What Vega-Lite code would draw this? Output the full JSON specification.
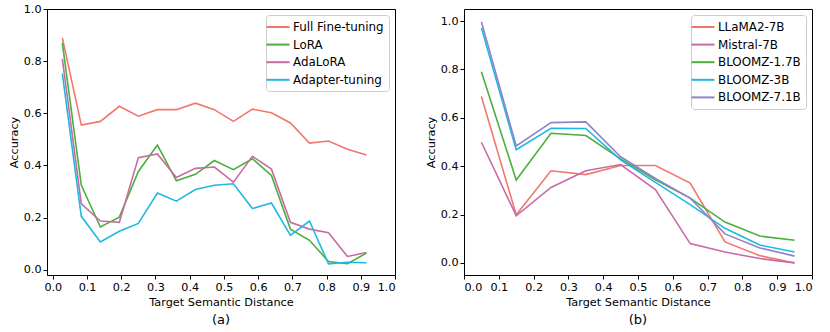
{
  "$schema": "https://vega.github.io/schema/vega-lite/v6.json",
  "padding": {"left": 7, "top": 2, "right": 0, "bottom": 0},
  "config": {
    "font": "DejaVu Sans",
    "view": {"stroke": "black", "strokeWidth": 1},
    "axis": {
      "domain": false, "grid": false, "tickColor": "black", "tickSize": 4, "tickWidth": 1,
      "labelFontSize": 11.2, "labelColor": "black", "labelPadding": 2,
      "titleFontSize": 11.3, "titleFontWeight": "normal", "titleColor": "black"
    },
    "legend": {
      "orient": "top-right", "offset": 6, "fillColor": "white", "strokeColor": "#cccccc",
      "cornerRadius": 3, "padding": 5, "labelFontSize": 11.9, "labelColor": "black",
      "symbolType": "M-2,0H2", "symbolSize": 132, "symbolStrokeWidth": 2, "labelOffset": 8,
      "rowPadding": 4.6, "title": null
    },
    "title": {"orient": "bottom", "fontSize": 13, "fontWeight": "normal", "color": "black", "offset": 6}
  },
  "spacing": 69,
  "bounds": "flush",
  "resolve": {"scale": {"color": "independent"}, "legend": {"color": "independent"}},
  "hconcat": [
    {
      "width": 348, "height": 266,
      "title": "(a)",
      "data": {"values": [
        {"d":0.0278,"acc":0.889,"method":"Full Fine-tuning"},
        {"d":0.0833,"acc":0.555,"method":"Full Fine-tuning"},
        {"d":0.1389,"acc":0.569,"method":"Full Fine-tuning"},
        {"d":0.1944,"acc":0.627,"method":"Full Fine-tuning"},
        {"d":0.25,"acc":0.589,"method":"Full Fine-tuning"},
        {"d":0.3056,"acc":0.614,"method":"Full Fine-tuning"},
        {"d":0.3611,"acc":0.614,"method":"Full Fine-tuning"},
        {"d":0.4167,"acc":0.639,"method":"Full Fine-tuning"},
        {"d":0.4722,"acc":0.614,"method":"Full Fine-tuning"},
        {"d":0.5278,"acc":0.569,"method":"Full Fine-tuning"},
        {"d":0.5833,"acc":0.616,"method":"Full Fine-tuning"},
        {"d":0.6389,"acc":0.602,"method":"Full Fine-tuning"},
        {"d":0.6944,"acc":0.563,"method":"Full Fine-tuning"},
        {"d":0.75,"acc":0.486,"method":"Full Fine-tuning"},
        {"d":0.8056,"acc":0.494,"method":"Full Fine-tuning"},
        {"d":0.8611,"acc":0.462,"method":"Full Fine-tuning"},
        {"d":0.9167,"acc":0.440,"method":"Full Fine-tuning"},
        {"d":0.0278,"acc":0.870,"method":"LoRA"},
        {"d":0.0833,"acc":0.324,"method":"LoRA"},
        {"d":0.1389,"acc":0.164,"method":"LoRA"},
        {"d":0.1944,"acc":0.202,"method":"LoRA"},
        {"d":0.25,"acc":0.377,"method":"LoRA"},
        {"d":0.3056,"acc":0.478,"method":"LoRA"},
        {"d":0.3611,"acc":0.341,"method":"LoRA"},
        {"d":0.4167,"acc":0.366,"method":"LoRA"},
        {"d":0.4722,"acc":0.419,"method":"LoRA"},
        {"d":0.5278,"acc":0.384,"method":"LoRA"},
        {"d":0.5833,"acc":0.426,"method":"LoRA"},
        {"d":0.6389,"acc":0.362,"method":"LoRA"},
        {"d":0.6944,"acc":0.156,"method":"LoRA"},
        {"d":0.75,"acc":0.113,"method":"LoRA"},
        {"d":0.8056,"acc":0.032,"method":"LoRA"},
        {"d":0.8611,"acc":0.023,"method":"LoRA"},
        {"d":0.9167,"acc":0.064,"method":"LoRA"},
        {"d":0.0278,"acc":0.809,"method":"AdaLoRA"},
        {"d":0.0833,"acc":0.253,"method":"AdaLoRA"},
        {"d":0.1389,"acc":0.187,"method":"AdaLoRA"},
        {"d":0.1944,"acc":0.182,"method":"AdaLoRA"},
        {"d":0.25,"acc":0.430,"method":"AdaLoRA"},
        {"d":0.3056,"acc":0.444,"method":"AdaLoRA"},
        {"d":0.3611,"acc":0.354,"method":"AdaLoRA"},
        {"d":0.4167,"acc":0.389,"method":"AdaLoRA"},
        {"d":0.4722,"acc":0.394,"method":"AdaLoRA"},
        {"d":0.5278,"acc":0.336,"method":"AdaLoRA"},
        {"d":0.5833,"acc":0.435,"method":"AdaLoRA"},
        {"d":0.6389,"acc":0.386,"method":"AdaLoRA"},
        {"d":0.6944,"acc":0.182,"method":"AdaLoRA"},
        {"d":0.75,"acc":0.156,"method":"AdaLoRA"},
        {"d":0.8056,"acc":0.142,"method":"AdaLoRA"},
        {"d":0.8611,"acc":0.051,"method":"AdaLoRA"},
        {"d":0.9167,"acc":0.066,"method":"AdaLoRA"},
        {"d":0.0278,"acc":0.752,"method":"Adapter-tuning"},
        {"d":0.0833,"acc":0.205,"method":"Adapter-tuning"},
        {"d":0.1389,"acc":0.107,"method":"Adapter-tuning"},
        {"d":0.1944,"acc":0.148,"method":"Adapter-tuning"},
        {"d":0.25,"acc":0.178,"method":"Adapter-tuning"},
        {"d":0.3056,"acc":0.294,"method":"Adapter-tuning"},
        {"d":0.3611,"acc":0.263,"method":"Adapter-tuning"},
        {"d":0.4167,"acc":0.308,"method":"Adapter-tuning"},
        {"d":0.4722,"acc":0.324,"method":"Adapter-tuning"},
        {"d":0.5278,"acc":0.330,"method":"Adapter-tuning"},
        {"d":0.5833,"acc":0.235,"method":"Adapter-tuning"},
        {"d":0.6389,"acc":0.256,"method":"Adapter-tuning"},
        {"d":0.6944,"acc":0.132,"method":"Adapter-tuning"},
        {"d":0.75,"acc":0.187,"method":"Adapter-tuning"},
        {"d":0.8056,"acc":0.023,"method":"Adapter-tuning"},
        {"d":0.8611,"acc":0.029,"method":"Adapter-tuning"},
        {"d":0.9167,"acc":0.027,"method":"Adapter-tuning"}
      ]},
      "mark": {"type": "line", "strokeWidth": 1.6, "clip": true},
      "encoding": {
        "x": {"field": "d", "type": "quantitative", "title": "Target Semantic Distance",
              "scale": {"domain": [-0.017, 1.0], "nice": false, "zero": false},
              "axis": {"values": [0,0.1,0.2,0.3,0.4,0.5,0.6,0.7,0.8,0.9,1.0], "format": ".1f"}},
        "y": {"field": "acc", "type": "quantitative", "title": "Accuracy",
              "scale": {"domain": [-0.02, 1.0], "nice": false, "zero": false},
              "axis": {"values": [0,0.2,0.4,0.6,0.8,1.0], "format": ".1f"}},
        "color": {"field": "method", "type": "nominal",
                  "scale": {"domain": ["Full Fine-tuning","LoRA","AdaLoRA","Adapter-tuning"],
                            "range": ["#f0776d","#4caf3d","#c86ba5","#1fb8e3"]}}
      }
    },
    {
      "width": 348, "height": 266,
      "title": "(b)",
      "data": {"values": [
        {"d":0.05,"acc":0.688,"model":"LLaMA2-7B"},
        {"d":0.15,"acc":0.199,"model":"LLaMA2-7B"},
        {"d":0.25,"acc":0.381,"model":"LLaMA2-7B"},
        {"d":0.35,"acc":0.365,"model":"LLaMA2-7B"},
        {"d":0.45,"acc":0.403,"model":"LLaMA2-7B"},
        {"d":0.55,"acc":0.403,"model":"LLaMA2-7B"},
        {"d":0.65,"acc":0.330,"model":"LLaMA2-7B"},
        {"d":0.75,"acc":0.087,"model":"LLaMA2-7B"},
        {"d":0.85,"acc":0.030,"model":"LLaMA2-7B"},
        {"d":0.95,"acc":0.000,"model":"LLaMA2-7B"},
        {"d":0.05,"acc":0.499,"model":"Mistral-7B"},
        {"d":0.15,"acc":0.195,"model":"Mistral-7B"},
        {"d":0.25,"acc":0.312,"model":"Mistral-7B"},
        {"d":0.35,"acc":0.381,"model":"Mistral-7B"},
        {"d":0.45,"acc":0.407,"model":"Mistral-7B"},
        {"d":0.55,"acc":0.303,"model":"Mistral-7B"},
        {"d":0.65,"acc":0.080,"model":"Mistral-7B"},
        {"d":0.75,"acc":0.045,"model":"Mistral-7B"},
        {"d":0.85,"acc":0.018,"model":"Mistral-7B"},
        {"d":0.95,"acc":0.000,"model":"Mistral-7B"},
        {"d":0.05,"acc":0.791,"model":"BLOOMZ-1.7B"},
        {"d":0.15,"acc":0.343,"model":"BLOOMZ-1.7B"},
        {"d":0.25,"acc":0.536,"model":"BLOOMZ-1.7B"},
        {"d":0.35,"acc":0.527,"model":"BLOOMZ-1.7B"},
        {"d":0.45,"acc":0.430,"model":"BLOOMZ-1.7B"},
        {"d":0.55,"acc":0.344,"model":"BLOOMZ-1.7B"},
        {"d":0.65,"acc":0.268,"model":"BLOOMZ-1.7B"},
        {"d":0.75,"acc":0.169,"model":"BLOOMZ-1.7B"},
        {"d":0.85,"acc":0.111,"model":"BLOOMZ-1.7B"},
        {"d":0.95,"acc":0.094,"model":"BLOOMZ-1.7B"},
        {"d":0.05,"acc":0.972,"model":"BLOOMZ-3B"},
        {"d":0.15,"acc":0.468,"model":"BLOOMZ-3B"},
        {"d":0.25,"acc":0.557,"model":"BLOOMZ-3B"},
        {"d":0.35,"acc":0.556,"model":"BLOOMZ-3B"},
        {"d":0.45,"acc":0.426,"model":"BLOOMZ-3B"},
        {"d":0.55,"acc":0.333,"model":"BLOOMZ-3B"},
        {"d":0.65,"acc":0.241,"model":"BLOOMZ-3B"},
        {"d":0.75,"acc":0.143,"model":"BLOOMZ-3B"},
        {"d":0.85,"acc":0.074,"model":"BLOOMZ-3B"},
        {"d":0.95,"acc":0.045,"model":"BLOOMZ-3B"},
        {"d":0.05,"acc":0.997,"model":"BLOOMZ-7.1B"},
        {"d":0.15,"acc":0.484,"model":"BLOOMZ-7.1B"},
        {"d":0.25,"acc":0.580,"model":"BLOOMZ-7.1B"},
        {"d":0.35,"acc":0.583,"model":"BLOOMZ-7.1B"},
        {"d":0.45,"acc":0.439,"model":"BLOOMZ-7.1B"},
        {"d":0.55,"acc":0.349,"model":"BLOOMZ-7.1B"},
        {"d":0.65,"acc":0.268,"model":"BLOOMZ-7.1B"},
        {"d":0.75,"acc":0.120,"model":"BLOOMZ-7.1B"},
        {"d":0.85,"acc":0.062,"model":"BLOOMZ-7.1B"},
        {"d":0.95,"acc":0.028,"model":"BLOOMZ-7.1B"}
      ]},
      "mark": {"type": "line", "strokeWidth": 1.6, "clip": true},
      "encoding": {
        "x": {"field": "d", "type": "quantitative", "title": "Target Semantic Distance",
              "scale": {"domain": [0, 1.0], "nice": false, "zero": false},
              "axis": {"values": [0,0.1,0.2,0.3,0.4,0.5,0.6,0.7,0.8,0.9,1.0], "format": ".1f"}},
        "y": {"field": "acc", "type": "quantitative", "title": "Accuracy",
              "scale": {"domain": [-0.05, 1.05], "nice": false, "zero": false},
              "axis": {"values": [0,0.2,0.4,0.6,0.8,1.0], "format": ".1f"}},
        "color": {"field": "model", "type": "nominal",
                  "scale": {"domain": ["LLaMA2-7B","Mistral-7B","BLOOMZ-1.7B","BLOOMZ-3B","BLOOMZ-7.1B"],
                            "range": ["#f0776d","#c86ba5","#4caf3d","#1fb8e3","#8e85c8"]}}
      }
    }
  ]
}
